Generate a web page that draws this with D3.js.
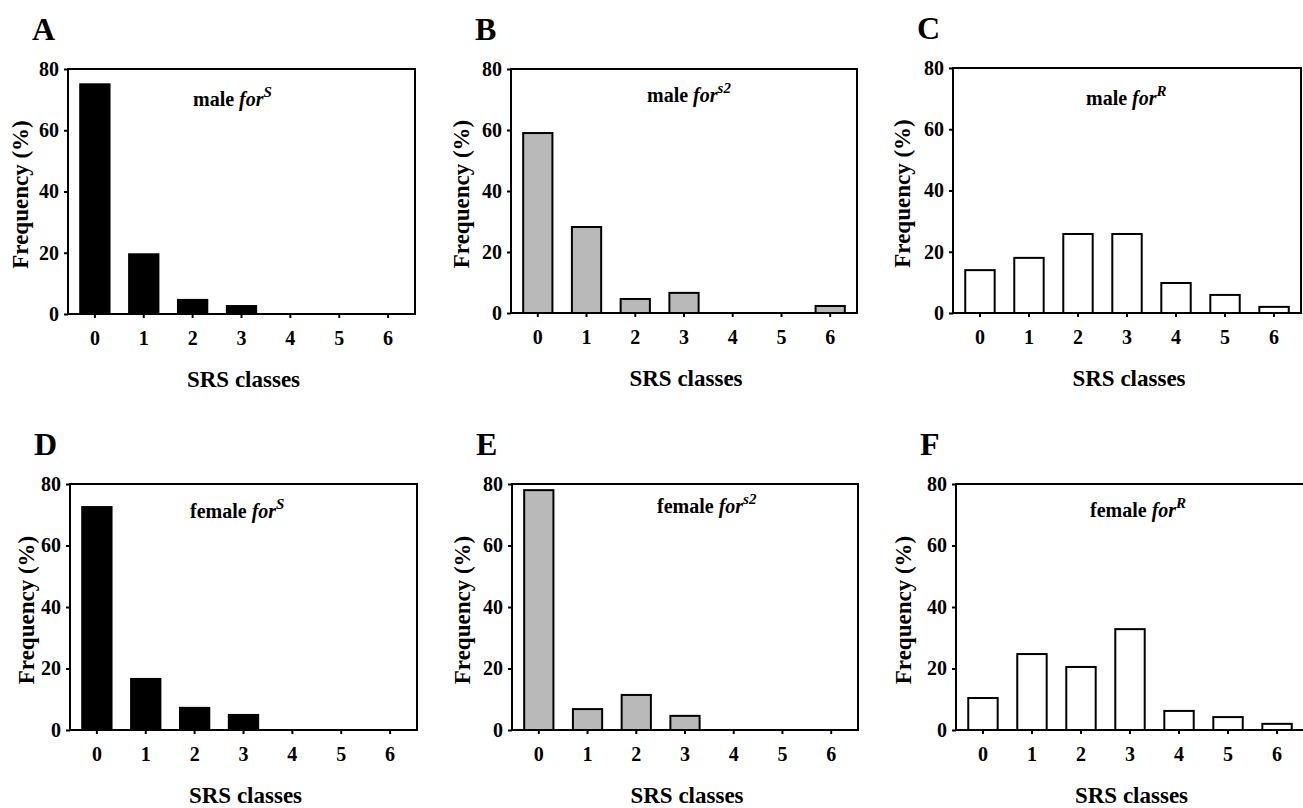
<!DOCTYPE html>
<html>
<head>
<meta charset="utf-8">
<script src="https://cdn.jsdelivr.net/npm/d3@7"></script>
<style>
  body { margin: 0; background: #fff; }
</style>
</head>
<body>
<div id="chart"></div>
<script>
// SRS class categories and axis ticks
const classes = ['0', '1', '2', '3', '4', '5', '6'];
const yTicks = [0, 20, 40, 60, 80];

// Frequencies (%) per SRS class
const maleS    = [75, 19.5, 4.6, 2.6, 0, 0, 0];
const maleS2   = [59, 28.2, 4.6, 6.6, 0, 0, 2.3];
const maleR    = [14, 18, 25.8, 25.8, 9.8, 5.9, 2];
const femaleS  = [72.5, 16.6, 7.2, 4.9, 0, 0, 0];
const femaleS2 = [78, 6.8, 11.4, 4.6, 0, 0, 0];
const femaleR  = [10.4, 24.7, 20.5, 32.8, 6.2, 4.2, 2];

const panelLetters = ['A', 'B', 'C', 'D', 'E', 'F'];
const sexLabels = ['male', 'male', 'male', 'female', 'female', 'female'];
const alleles = ['S', 's2', 'R', 'S', 's2', 'R'];
const seriesList = [maleS, maleS2, maleR, femaleS, femaleS2, femaleR];

// layout of each plot box (left, top, right, bottom) and annotation offsets
const layout = [
  {x0: 68,  y0: 69,  x1: 415,  y1: 314, fill: '#000',    ax: 125, ay: 37, ty: 47},
  {x0: 511, y0: 69,  x1: 857,  y1: 313, fill: '#b9b9b9', ax: 136, ay: 33, ty: 49},
  {x0: 953, y0: 68,  x1: 1301, y1: 313, fill: '#fff',    ax: 133, ay: 37, ty: 50},
  {x0: 70,  y0: 484, x1: 417,  y1: 730, fill: '#000',    ax: 120, ay: 34, ty: 43},
  {x0: 512, y0: 484, x1: 858,  y1: 730, fill: '#b9b9b9', ax: 145, ay: 29, ty: 49},
  {x0: 956, y0: 484, x1: 1304, y1: 730, fill: '#fff',    ax: 134, ay: 33, ty: 52}
];

const fontStyle = (size) => "font-family:'Liberation Serif';font-weight:bold;font-size:" + size + "px";

const svg = d3.select('#chart').append('svg')
  .attr('width', 1303)
  .attr('height', 808);

seriesList.forEach((values, i) => {
  const L = layout[i];
  const data = classes.map((c, j) => ({cls: c, value: values[j]}));

  const x = d3.scaleBand()
    .domain(classes)
    .range([L.x0, L.x1])
    .paddingInner(0.4)
    .paddingOuter(0.25);

  const y = d3.scaleLinear()
    .domain([0, 80])
    .range([L.y1, L.y0]);

  const g = svg.append('g');

  // bars
  g.selectAll('.bar')
    .data(data.filter(d => d.value > 0))
    .enter().append('rect')
    .attr('class', 'bar')
    .attr('x', d => x(d.cls))
    .attr('width', x.bandwidth())
    .attr('y', d => y(d.value))
    .attr('height', d => y(0) - y(d.value))
    .attr('fill', L.fill)
    .attr('stroke', '#000')
    .attr('stroke-width', 2);

  // frame
  g.append('rect')
    .attr('x', L.x0)
    .attr('y', L.y0)
    .attr('width', L.x1 - L.x0)
    .attr('height', L.y1 - L.y0)
    .attr('fill', 'none')
    .attr('stroke', '#000')
    .attr('stroke-width', 2);

  // y axis
  const yAxis = g.append('g')
    .attr('transform', 'translate(' + L.x0 + ',0)')
    .call(d3.axisLeft(y).tickValues(yTicks).tickSize(4).tickPadding(5));
  yAxis.select('.domain').remove();
  yAxis.selectAll('line').attr('stroke-width', 2);
  yAxis.selectAll('text').attr('style', fontStyle(20));

  // x axis
  const xAxis = g.append('g')
    .attr('transform', 'translate(0,' + L.y1 + ')')
    .call(d3.axisBottom(x).tickSize(4).tickPadding(13));
  xAxis.select('.domain').remove();
  xAxis.selectAll('line').attr('stroke-width', 2);
  xAxis.selectAll('text').attr('style', fontStyle(20));

  // panel letter
  g.append('text')
    .attr('x', L.x0 - 36)
    .attr('y', L.y0 - 29)
    .attr('style', fontStyle(32))
    .text(panelLetters[i]);

  // axis titles
  g.append('text')
    .attr('x', (L.x0 + Math.min(L.x1, 1303)) / 2 + 2)
    .attr('y', L.y1 + 73)
    .attr('text-anchor', 'middle')
    .attr('style', fontStyle(23))
    .text('SRS classes');

  g.append('text')
    .attr('transform', 'translate(' + (L.x0 - L.ty + 7) + ',' + ((L.y0 + L.y1) / 2 + 3) + ') rotate(-90)')
    .attr('text-anchor', 'middle')
    .attr('style', fontStyle(23))
    .text('Frequency (%)');

  // genotype annotation
  const note = g.append('text')
    .attr('x', L.x0 + L.ax)
    .attr('y', L.y0 + L.ay)
    .attr('style', fontStyle(20));
  note.append('tspan').text(sexLabels[i] + ' ');
  note.append('tspan').attr('font-style', 'italic').text('for');
  note.append('tspan')
    .attr('font-style', 'italic')
    .attr('font-size', 15)
    .attr('dy', -9)
    .text(alleles[i]);
});
</script>
</body>
</html>
